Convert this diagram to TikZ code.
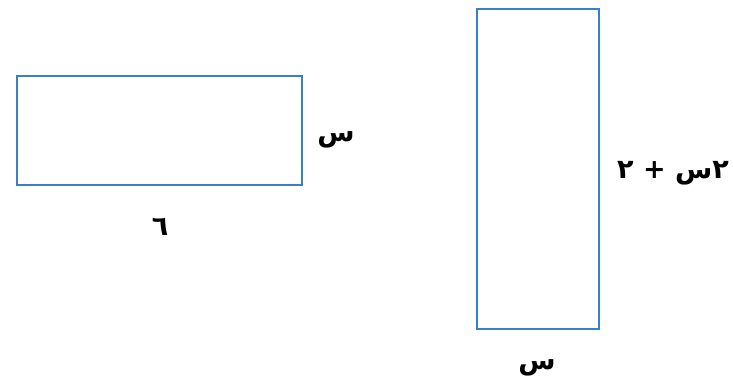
\documentclass[tikz,border=0pt]{standalone}
\usepackage{fontspec}
\TeXXeTstate=1
\newfontfamily\arabicfont[Script=Arabic]{DejaVu Sans}
\definecolor{rectblue}{HTML}{3A80C4}
\tikzset{
  shapebox/.style={draw=rectblue, line width=2.2pt},
  lbl/.style={font=\arabicfont\bfseries\fontsize{27}{31}\selectfont, inner sep=0pt}
}
\begin{document}
\begin{tikzpicture}[x=1pt,y=-1pt]
\useasboundingbox (0,0) rectangle (733,390);
\node[shapebox, minimum width=285pt, minimum height=109pt, inner sep=0pt, anchor=north west] (r1) at (16,75) {};
\node[shapebox, minimum width=122pt, minimum height=320pt, inner sep=0pt, anchor=north west] (r2) at (476,8) {};
\node[lbl] (l1) at (336,140) {\beginR س\endR};
\node[lbl] (l2) at (160,227) {\beginR ٦\endR};
\node[lbl] (l3) at (673,173) {\beginR ٢س + ٢\endR};
\node[lbl] (l4) at (537,368) {\beginR س\endR};
\end{tikzpicture}
\end{document}
